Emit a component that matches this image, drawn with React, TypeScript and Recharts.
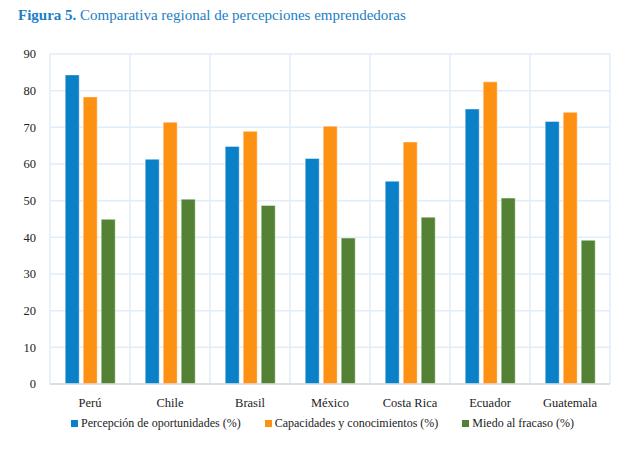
import { Bar, BarChart, CartesianGrid, XAxis, YAxis } from "recharts";

const countries = ["Perú", "Chile", "Brasil", "México", "Costa Rica", "Ecuador", "Guatemala"];
const oportunidades = [84.3, 61.3, 64.8, 61.5, 55.3, 75.0, 71.6];
const capacidades = [78.3, 71.4, 68.9, 70.3, 66.0, 82.4, 74.1];
const miedo = [44.9, 50.4, 48.7, 39.8, 45.5, 50.7, 39.2];
const yTicks = [0, 10, 20, 30, 40, 50, 60, 70, 80, 90];

const series = [
  { key: "oportunidades", name: "Percepción de oportunidades (%)", color: "#0A80C9" },
  { key: "capacidades", name: "Capacidades y conocimientos (%)", color: "#FF9112" },
  { key: "miedo", name: "Miedo al fracaso (%)", color: "#548235" },
];

const data = countries.map((country, i) => ({
  country,
  oportunidades: oportunidades[i],
  capacidades: capacidades[i],
  miedo: miedo[i],
}));

const FONT = "Liberation Serif, Tinos, Times, DejaVu Serif, serif";

export default function App() {
  return (
    <div style={{ position: "absolute", left: 0, top: 0, width: 637, height: 449, background: "#fff", fontFamily: FONT }}>
      <div style={{ position: "absolute", left: 18, top: 7, fontSize: 15, color: "#1D7EC4", whiteSpace: "nowrap", fontFamily: FONT }}>
        <b>Figura 5.</b> Comparativa regional de percepciones emprendedoras
      </div>
      <BarChart
        width={637}
        height={449}
        data={data}
        margin={{ top: 54, right: 27, bottom: 35, left: 0 }}
        barCategoryGap="19%"
        barGap={4}
        style={{ fontFamily: FONT }}
      >
        <CartesianGrid
          stroke="#E1EDF8"
          strokeWidth={1.5}
          verticalCoordinatesGenerator={({ offset }: any) =>
            countries.map((_, i) => offset.left + (i * offset.width) / countries.length).concat(offset.left + offset.width)
          }
        />
        <XAxis
          dataKey="country"
          tickLine={false}
          axisLine={{ stroke: "#D9D9D9", strokeWidth: 1.5 }}
          tick={{ fill: "#222", fontSize: 12.5, style: { fontFamily: FONT } }}
          tickMargin={8}
          height={30}
          interval={0}
        />
        <YAxis
          domain={[0, 90]}
          ticks={yTicks}
          tickLine={false}
          axisLine={false}
          width={50}
          tick={{ fill: "#222", fontSize: 12.5, style: { fontFamily: FONT } }}
          tickMargin={8}
        />
        {series.map((s) => (
          <Bar
            key={s.key}
            dataKey={s.key}
            name={s.name}
            fill={s.color}
            stroke="rgba(255,255,255,0.55)"
            strokeWidth={0.8}
            isAnimationActive={false}
          />
        ))}
      </BarChart>
      <div
        style={{
          position: "absolute",
          left: 0,
          width: 637,
          top: 416,
          display: "flex",
          justifyContent: "center",
          gap: 24,
          fontSize: 12,
          color: "#222",
          paddingLeft: 8,
          boxSizing: "border-box",
          fontFamily: FONT,
        }}
      >
        {series.map((s) => (
          <div key={s.key} style={{ display: "flex", alignItems: "center", whiteSpace: "nowrap" }}>
            <span style={{ display: "inline-block", width: 7, height: 7, background: s.color, marginRight: 3 }} />
            {s.name}
          </div>
        ))}
      </div>
    </div>
  );
}
